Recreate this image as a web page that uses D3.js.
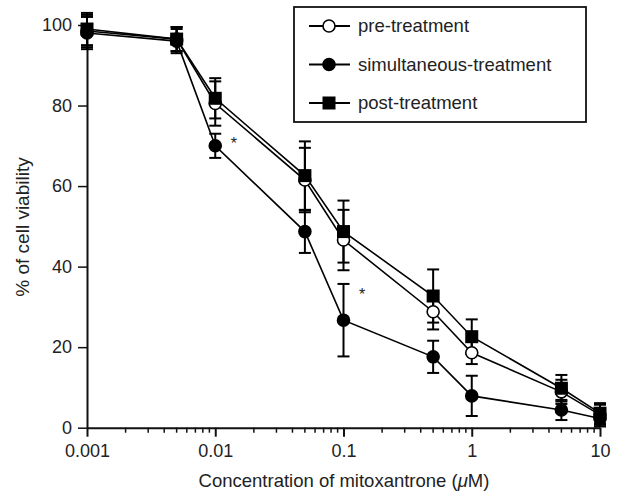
<!DOCTYPE html>
<html lang="en">
  <head>
    <meta charset="utf-8">
    <title>Cell viability vs mitoxantrone</title>
    <script src="https://d3js.org/d3.v7.min.js"></script>
    <style type="text/css">
      body {
        margin: 0;
        background: #ffffff;
      }
      text {
        font-family: "Liberation Sans", Arial, sans-serif;
        fill: #222;
      }
    </style>
  </head>
  <body>
    <script type="text/javascript">

    // data
    const concentrations = [0.001, 0.005, 0.01, 0.05, 0.1, 0.5, 1, 5, 10];
    const preMean  = [98.5, 96.5, 80.5, 61.5, 46.6, 28.8, 18.6, 8.9, 3.2];
    const preErr   = [4, 3, 5.5, 8, 7.5, 4.4, 2.8, 3, 2.5];
    const simMean  = [98, 96, 70, 48.7, 26.7, 17.6, 7.9, 4.4, 2.3];
    const simErr   = [4, 3, 3, 5.3, 9, 4, 5, 2.5, 2];
    const postMean = [99, 96.5, 81.8, 62.6, 48.7, 32.7, 22.6, 9.8, 3.6];
    const postErr  = [4, 3, 5, 8.5, 7.7, 6.6, 4.3, 3.3, 2.5];
    const seriesNames = ["pre-treatment", "simultaneous-treatment", "post-treatment"];
    const xTickValues = [0.001, 0.01, 0.1, 1, 10];
    const xTickLabels = ["0.001", "0.01", "0.1", "1", "10"];
    const yTickValues = [0, 20, 40, 60, 80, 100];
    // significance marks (*)
    const starX = [0.014, 0.14];
    const starY = [71.5, 34];

    const width = 624;
    const height = 494;
    const svg = d3.select("body")
                  .append("svg")
                  .attr("width", width)
                  .attr("height", height);

    const x = d3.scaleLog().domain([0.001, 10]).range([87, 600]);
    const y = d3.scaleLinear().domain([0, 100]).range([427.7, 25]);

    //series table built from the arrays
    const series = [
      {name: seriesNames[0], mean: preMean, err: preErr, shape: "circle", fill: "#fff"},
      {name: seriesNames[1], mean: simMean, err: simErr, shape: "circle", fill: "#000"},
      {name: seriesNames[2], mean: postMean, err: postErr, shape: "square", fill: "#000"}
    ];
    series.forEach(s => {
      s.points = concentrations.map((c, i) => ({c: c, v: s.mean[i], e: s.err[i]}));
    });

    //axes
    const minorTicks = [];
    [0.001, 0.01, 0.1, 1].forEach(d => {
      for (let k = 2; k <= 9; k++) minorTicks.push(d * k);
    });

    const xAxis = svg.append("g")
      .attr("transform", "translate(0," + y(0) + ")")
      .call(d3.axisBottom(x)
        .tickValues(xTickValues)
        .tickFormat((d, i) => xTickLabels[i])
        .tickSize(9)
        .tickPadding(8)
        .tickSizeOuter(0));
    xAxis.select(".domain").attr("stroke-width", 2).attr("stroke", "#111");
    xAxis.selectAll(".tick line").attr("stroke-width", 2).attr("stroke", "#111");
    xAxis.selectAll(".tick text").attr("font-size", 18).attr("font-family", "Liberation Sans, Arial, sans-serif").attr("fill", "#222");

    xAxis.selectAll(".minor")
      .data(minorTicks)
      .join("line")
      .attr("class", "minor")
      .attr("x1", d => x(d))
      .attr("x2", d => x(d))
      .attr("y1", 0)
      .attr("y2", 5)
      .attr("stroke", "#111")
      .attr("stroke-width", 1.5);

    const yAxis = svg.append("g")
      .attr("transform", "translate(" + x(0.001) + ",0)")
      .call(d3.axisLeft(y)
        .tickValues(yTickValues)
        .tickSize(9)
        .tickPadding(6)
        .tickSizeOuter(0));
    yAxis.select(".domain").attr("stroke-width", 2).attr("stroke", "#111");
    yAxis.selectAll(".tick line").attr("stroke-width", 1.5).attr("stroke", "#111");
    yAxis.selectAll(".tick text").attr("font-size", 18).attr("font-family", "Liberation Sans, Arial, sans-serif").attr("fill", "#222");

    //axis titles
    svg.append("text")
      .attr("transform", "translate(29,227) rotate(-90)")
      .attr("text-anchor", "middle")
      .attr("font-size", 19)
      .text("% of cell viability");

    const xt = svg.append("text")
      .attr("x", 344)
      .attr("y", 487)
      .attr("text-anchor", "middle")
      .attr("font-size", 18.5);
    xt.append("tspan").text("Concentration of mitoxantrone (");
    xt.append("tspan").attr("font-style", "italic").text("\u03bc");
    xt.append("tspan").text("M)");

    //lines
    const line = d3.line().x(d => x(d.c)).y(d => y(d.v));
    svg.selectAll(".series-line")
      .data(series)
      .join("path")
      .attr("class", "series-line")
      .attr("d", d => line(d.points))
      .attr("fill", "none")
      .attr("stroke", "#000")
      .attr("stroke-width", 1.6);

    //error bars
    const bars = svg.selectAll(".err")
      .data(series)
      .join("g")
      .attr("class", "err");
    bars.selectAll(".stem")
      .data(d => d.points)
      .join("line")
      .attr("class", "stem")
      .attr("x1", d => x(d.c)).attr("x2", d => x(d.c))
      .attr("y1", d => y(d.v + d.e)).attr("y2", d => y(d.v - d.e))
      .attr("stroke", "#000").attr("stroke-width", 2);
    [1, -1].forEach(sign => {
      bars.selectAll(".cap" + (sign > 0 ? "t" : "b"))
        .data(d => d.points)
        .join("line")
        .attr("class", "cap" + (sign > 0 ? "t" : "b"))
        .attr("x1", d => x(d.c) - 6).attr("x2", d => x(d.c) + 6)
        .attr("y1", d => y(d.v + sign * d.e)).attr("y2", d => y(d.v + sign * d.e))
        .attr("stroke", "#000").attr("stroke-width", 2);
    });

    //markers
    function drawMarker(sel, s, cx, cy) {
      if (s.shape === "circle") {
        sel.append("circle")
          .attr("cx", cx).attr("cy", cy).attr("r", 6)
          .attr("fill", s.fill).attr("stroke", "#000").attr("stroke-width", 1.6);
      } else {
        sel.append("rect")
          .attr("x", cx - 6.5).attr("y", cy - 6.5)
          .attr("width", 13).attr("height", 13)
          .attr("fill", s.fill);
      }
    }
    series.forEach(s => {
      const mg = svg.append("g");
      s.points.forEach(p => drawMarker(mg, s, x(p.c), y(p.v)));
    });

    //asterisks
    svg.selectAll(".star")
      .data(starX)
      .join("text")
      .attr("class", "star")
      .attr("x", d => x(d))
      .attr("y", (d, i) => y(starY[i]) + 9)
      .attr("text-anchor", "middle")
      .attr("font-size", 16)
      .text("*");

    //legend
    const legend = svg.append("g");
    legend.append("rect")
      .attr("x", 294).attr("y", 7)
      .attr("width", 292).attr("height", 115)
      .attr("fill", "#fff")
      .attr("stroke", "#111")
      .attr("stroke-width", 1.8);
    series.forEach((s, i) => {
      const ly = 26 + i * 38.5;
      legend.append("line")
        .attr("x1", 309).attr("x2", 350)
        .attr("y1", ly).attr("y2", ly)
        .attr("stroke", "#000").attr("stroke-width", 1.8);
      drawMarker(legend, s, 329, ly);
      legend.append("text")
        .attr("x", 358).attr("y", ly)
        .attr("dy", "0.35em")
        .attr("font-size", 18.5)
        .text(s.name);
    });

    </script>
  </body>
</html>
